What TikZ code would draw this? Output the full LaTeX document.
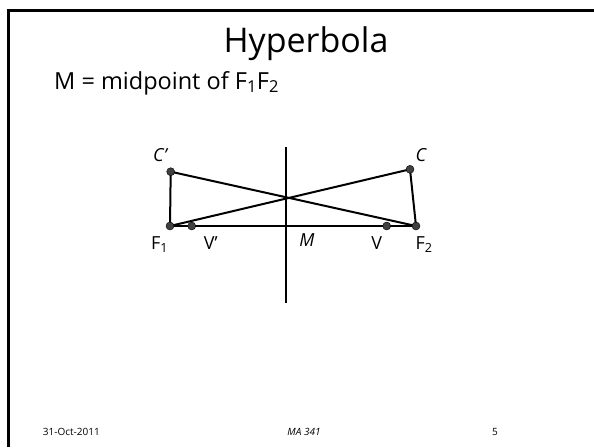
\documentclass[tikz,border=0pt]{standalone}
\usepackage{fontspec}
\setmainfont{Open Sans}
\usepackage{tikz}
\usetikzlibrary{positioning, backgrounds}

\tikzset{
  pnt/.style={circle, draw=black, fill=black!75, inner sep=0pt, minimum size=8pt},
  lbl/.style={font=\fontsize{18}{18}\selectfont, inner sep=1pt},
  seg/.style={line width=2pt}
}

\begin{document}
\begin{tikzpicture}[x=1pt, y=-1pt]
        \useasboundingbox (0,0) rectangle (594,447);
        \draw[line width=3pt] (8,447) -- (8,10.5) -- (594,10.5);

        \node[font=\fontsize{34}{34}\selectfont, anchor=base] (title) at (306,52) {Hyperbola};
        \node[font=\fontsize{23.5}{23.5}\selectfont, anchor=base west, inner sep=0pt] (def) at (54,89) {M = midpoint of F\textsubscript{1}F\textsubscript{2}};

        \node[pnt] (f1) at (170,226) {};
        \node[pnt] (v1) at (191.7,226) {};
        \node[pnt] (v2) at (386.7,226) {};
        \node[pnt] (f2) at (416,226) {};
        \node[pnt] (c1) at (170.7,171.7) {};
        \node[pnt] (c2) at (410,169.3) {};
        \coordinate (top) at (286,147);
        \coordinate (bot) at (286,303);
        \coordinate (m) at (286,226);

        \begin{scope}[on background layer]
        \draw[seg] (top) -- (bot);
        \draw[seg] (f1.center) -- (f2.center);
        \draw[seg] (c1.center) -- (f1.center) -- (c2.center) -- (f2.center) -- (c1.center);
        \end{scope}

        \node[lbl] (lf1) [below=5.5pt of f1, xshift=-10.5pt] {F\textsubscript{1}};
        \node[lbl] (lv1) [below=5.5pt of v1, xshift=19pt] {V'};
        \node[lbl] (lm) [below=6.5pt of m, xshift=21pt] {\itshape M};
        \node[lbl] (lv2) [below=5.5pt of v2, xshift=-10pt] {V};
        \node[lbl] (lf2) [below=5.5pt of f2, xshift=8pt] {F\textsubscript{2}};
        \node[lbl] (lc1) [above=4.5pt of c1, xshift=-10.7pt] {\itshape C'};
        \node[lbl] (lc2) [above=2pt of c2, xshift=11pt] {\itshape C};

        % footer
        \node[font=\fontsize{10}{10}\selectfont, anchor=base west, inner sep=0pt] (date) at (42.7,435) {31-Oct-2011};
        \node[font=\fontsize{10}{10}\selectfont\itshape, anchor=base, inner sep=0pt] (course) at (304,435) {MA 341};
        \node[font=\fontsize{10}{10}\selectfont, anchor=base, inner sep=0pt] (page) at (495,435) {5};
\end{tikzpicture}
\end{document}
